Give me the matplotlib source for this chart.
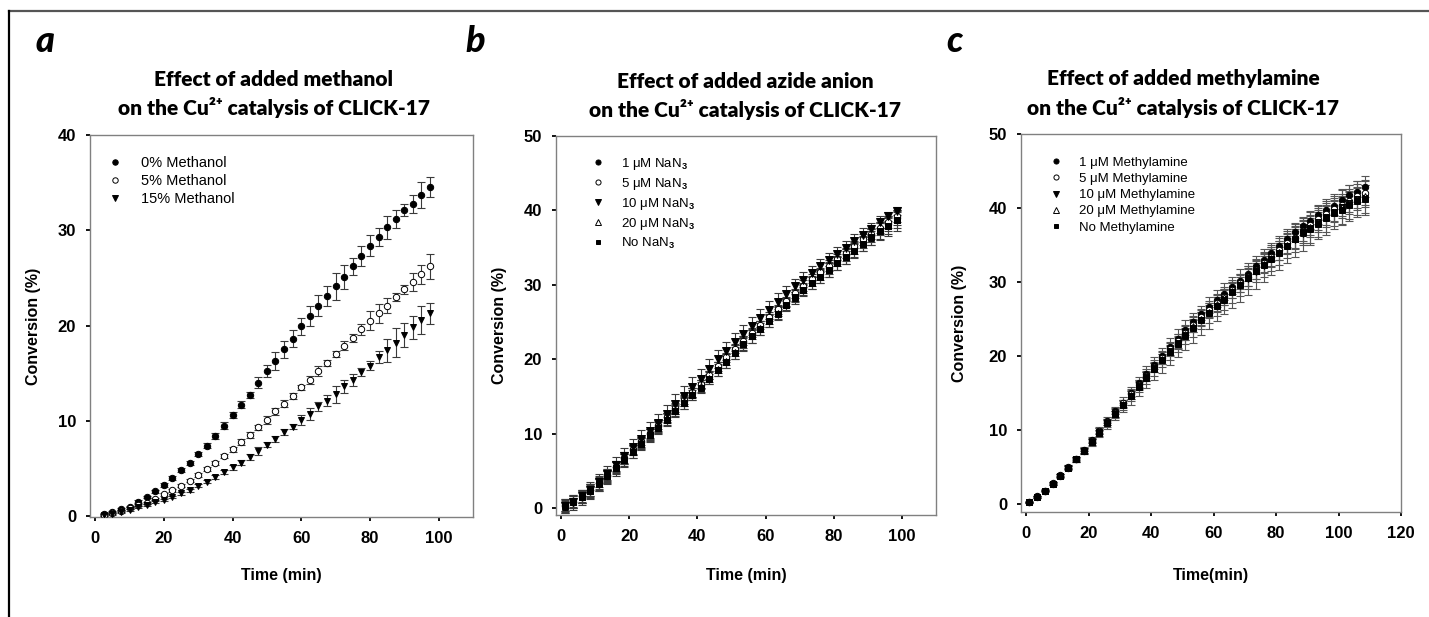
#!/usr/bin/env python
"""Three-panel CLICK-17 Cu2+ catalysis time courses (methanol, azide, methylamine)."""

import matplotlib

matplotlib.use("Agg")
import matplotlib.pyplot as plt
from matplotlib.lines import Line2D

W, H = 1429, 617

# ---- panel a: methanol ----
time_a = [2.5, 5, 7.5, 10, 12.5, 15, 17.5, 20, 22.5, 25, 27.5, 30, 32.5, 35, 37.5, 40, 42.5, 45, 47.5, 50,
          52.5, 55, 57.5, 60, 62.5, 65, 67.5, 70, 72.5, 75, 77.5, 80, 82.5, 85, 87.5, 90, 92.5, 95, 97.5]
meoh_0 = [0.2, 0.4, 0.7, 1.0, 1.5, 2.0, 2.6, 3.3, 4.0, 4.8, 5.6, 6.5, 7.4, 8.4, 9.5, 10.6, 11.7, 12.7, 14.0, 15.2,
          16.3, 17.5, 18.6, 19.9, 21.0, 22.1, 23.1, 24.1, 25.1, 26.2, 27.3, 28.4, 29.3, 30.3, 31.2, 32.1, 32.8, 33.7, 34.5]
meoh_0_err = [0.1, 0.1, 0.1, 0.1, 0.15, 0.15, 0.15, 0.2, 0.2, 0.2, 0.2, 0.2, 0.3, 0.35, 0.35, 0.3, 0.35, 0.3, 0.6, 0.65,
              0.95, 0.9, 0.9, 0.9, 1.0, 1.1, 1.0, 1.4, 1.3, 0.9, 1.1, 1.15, 0.9, 1.2, 0.95, 0.65, 0.95, 1.35, 1.05]
meoh_5 = [0.14, 0.28, 0.52, 0.8, 1.2, 1.4, 1.8, 2.3, 2.7, 3.2, 3.7, 4.3, 4.9, 5.6, 6.3, 7.0, 7.8, 8.5, 9.3, 10.1,
          11.0, 11.8, 12.6, 13.5, 14.3, 15.2, 16.1, 17.0, 17.9, 18.7, 19.6, 20.5, 21.3, 22.1, 23.0, 23.8, 24.6, 25.4, 26.2]
meoh_5_err = [0.1, 0.1, 0.1, 0.1, 0.1, 0.1, 0.1, 0.15, 0.15, 0.15, 0.15, 0.2, 0.2, 0.2, 0.25, 0.3, 0.3, 0.3, 0.3, 0.4,
              0.35, 0.4, 0.3, 0.3, 0.4, 0.5, 0.3, 0.3, 0.5, 0.45, 0.6, 1.0, 1.0, 0.8, 0.45, 0.45, 0.95, 1.0, 1.3]
meoh_15 = [0.1, 0.24, 0.42, 0.66, 0.91, 1.15, 1.43, 1.68, 2.0, 2.4, 2.7, 3.2, 3.6, 4.1, 4.6, 5.1, 5.6, 6.2, 6.8, 7.5,
           8.1, 8.8, 9.4, 10.1, 10.7, 11.5, 12.1, 12.8, 13.6, 14.3, 15.1, 15.8, 16.7, 17.4, 18.2, 19.0, 19.8, 20.6, 21.3]
meoh_15_err = [0.1, 0.1, 0.1, 0.1, 0.1, 0.1, 0.1, 0.1, 0.15, 0.15, 0.15, 0.15, 0.15, 0.2, 0.2, 0.25, 0.25, 0.3, 0.4, 0.3,
               0.3, 0.3, 0.3, 0.5, 0.6, 0.5, 0.6, 0.9, 0.7, 0.6, 0.4, 0.5, 0.6, 1.2, 1.5, 1.3, 1.2, 1.5, 1.1]

# ---- panel b: azide ----
time_b = [1, 3.5, 6, 8.5, 11, 13.5, 16, 18.5, 21, 23.5, 26, 28.5, 31, 33.5, 36, 38.5, 41, 43.5, 46, 48.5,
          51, 53.5, 56, 58.5, 61, 63.5, 66, 68.5, 71, 73.5, 76, 78.5, 81, 83.5, 86, 88.5, 91, 93.5, 96, 98.5]
azide_1 = [0.4, 0.9, 1.6, 2.4, 3.4, 4.5, 5.6, 6.7, 7.8, 8.9, 10.0, 11.1, 12.2, 13.3, 14.4, 15.5, 16.6, 17.7, 18.9, 20.0,
           21.2, 22.3, 23.4, 24.4, 25.4, 26.5, 27.6, 28.6, 29.6, 30.5, 31.4, 32.3, 33.2, 34.0, 34.9, 35.8, 36.6, 37.5, 38.2, 39.0]
azide_1_err = [0.8, 0.8, 0.9, 0.8, 0.8, 0.8, 0.7, 0.8, 0.7, 0.7, 0.7, 0.7, 0.6, 0.7, 0.7, 0.7, 0.6, 0.7, 0.7, 0.7,
               0.7, 0.8, 0.7, 0.7, 0.7, 0.7, 0.6, 0.7, 0.7, 0.7, 0.8, 0.8, 0.7, 0.8, 0.8, 0.8, 0.9, 0.8, 0.9, 0.9]
azide_5 = [0.3, 0.8, 1.6, 2.4, 3.4, 4.4, 5.6, 6.7, 7.9, 9.0, 10.1, 11.2, 12.3, 13.5, 14.6, 15.6, 16.7, 17.9, 19.1, 20.3,
           21.4, 22.5, 23.6, 24.6, 25.7, 26.7, 27.8, 28.9, 29.9, 30.8, 31.7, 32.6, 33.5, 34.3, 35.2, 36.1, 36.9, 37.7, 38.5, 39.2]
azide_5_err = [0.6, 0.6, 0.7, 0.7, 0.6, 0.6, 0.6, 0.6, 0.6, 0.5, 0.6, 0.6, 0.5, 0.6, 0.6, 0.6, 0.5, 0.6, 0.6, 0.6,
               0.6, 0.6, 0.6, 0.5, 0.6, 0.6, 0.6, 0.6, 0.7, 0.6, 0.6, 0.7, 0.7, 0.7, 0.7, 0.7, 0.8, 0.7, 0.8, 0.8]
azide_10 = [0.3, 0.9, 1.6, 2.5, 3.5, 4.6, 5.8, 7.0, 8.2, 9.3, 10.4, 11.5, 12.7, 14.0, 15.1, 16.3, 17.4, 18.7, 20.0, 21.1,
            22.3, 23.4, 24.5, 25.5, 26.6, 27.7, 28.8, 29.8, 30.7, 31.6, 32.6, 33.4, 34.2, 35.0, 35.9, 36.7, 37.5, 38.4, 39.2, 39.9]
azide_10_err = [0.8, 0.9, 0.9, 1.0, 1.1, 1.1, 1.1, 1.1, 1.1, 1.2, 1.2, 1.2, 1.2, 1.3, 1.3, 1.3, 1.3, 1.3, 1.2, 1.2,
                1.2, 1.2, 1.2, 1.2, 1.2, 1.2, 1.0, 1.0, 1.0, 1.0, 0.9, 0.9, 0.9, 0.9, 0.9, 0.9, 0.8, 0.8, 0.6, 0.5]
azide_20 = [0.2, 0.8, 1.5, 2.3, 3.2, 4.3, 5.4, 6.5, 7.6, 8.7, 9.8, 10.9, 12.0, 13.1, 14.2, 15.3, 16.4, 17.5, 18.7, 19.8,
            21.0, 22.1, 23.1, 24.2, 25.2, 26.2, 27.3, 28.3, 29.3, 30.2, 31.1, 32.0, 32.9, 33.8, 34.6, 35.5, 36.3, 37.2, 37.9, 38.7]
azide_20_err = [0.8, 0.8, 0.8, 0.9, 0.9, 0.9, 0.8, 0.8, 0.8, 0.8, 0.8, 0.8, 0.8, 0.8, 0.8, 0.8, 0.8, 0.8, 0.9, 0.9,
                0.9, 0.9, 0.9, 0.9, 0.9, 0.9, 0.8, 0.8, 0.8, 0.8, 0.9, 0.9, 0.9, 1.0, 1.0, 1.0, 1.0, 1.1, 1.1, 1.1]
azide_none = [0.3, 0.8, 1.5, 2.3, 3.3, 4.3, 5.4, 6.5, 7.6, 8.7, 9.8, 10.8, 11.9, 13.1, 14.1, 15.2, 16.2, 17.4, 18.6, 19.7,
              20.9, 22.0, 23.1, 24.1, 25.1, 26.1, 27.3, 28.4, 29.3, 30.2, 31.1, 32.0, 32.9, 33.7, 34.6, 35.5, 36.4, 37.2, 37.9, 38.7]
azide_none_err = [0.9, 1.0, 1.0, 1.0, 1.0, 1.0, 1.0, 1.0, 0.9, 0.9, 0.9, 0.8, 0.8, 0.7, 0.7, 0.7, 0.7, 0.7, 0.8, 0.8,
                  0.8, 0.9, 0.9, 0.8, 0.8, 0.7, 0.7, 0.7, 0.7, 0.8, 0.8, 0.9, 0.9, 0.9, 0.9, 1.0, 1.1, 1.2, 1.3, 1.4]

# ---- panel c: methylamine ----
time_c = [1, 3.5, 6, 8.5, 11, 13.5, 16, 18.5, 21, 23.5, 26, 28.5, 31, 33.5, 36, 38.5, 41, 43.5, 46, 48.5, 51, 53.5,
          56, 58.5, 61, 63.5, 66, 68.5, 71, 73.5, 76, 78.5, 81, 83.5, 86, 88.5, 91, 93.5, 96, 98.5, 101, 103.5, 106, 108.5]
mea_1 = [0.3, 1.0, 1.8, 2.8, 3.9, 5.0, 6.1, 7.3, 8.6, 9.9, 11.2, 12.5, 13.7, 15.0, 16.3, 17.6, 18.8, 20.0, 21.2, 22.3, 23.5, 24.6,
         25.6, 26.6, 27.5, 28.4, 29.3, 30.1, 31.1, 32.1, 33.0, 33.9, 34.9, 35.8, 36.7, 37.5, 38.3, 39.0, 39.7, 40.3, 41.1, 41.8, 42.2, 42.9]
mea_1_err = [0.1, 0.1, 0.1, 0.1, 0.1, 0.2, 0.2, 0.2, 0.3, 0.3, 0.3, 0.4, 0.4, 0.5, 0.5, 0.6, 0.6, 0.6, 0.7, 0.7, 0.7, 0.8,
             0.8, 0.8, 0.9, 0.9, 0.9, 1.0, 1.0, 1.0, 1.0, 1.1, 1.1, 1.1, 1.1, 1.2, 1.2, 1.2, 1.3, 1.3, 1.3, 1.3, 1.4, 1.4]
mea_5 = [0.2, 0.9, 1.8, 2.7, 3.8, 4.9, 6.0, 7.2, 8.5, 9.8, 11.1, 12.3, 13.6, 14.8, 16.1, 17.3, 18.5, 19.7, 20.9, 22.0, 23.1, 24.2,
         25.2, 26.2, 27.1, 28.0, 28.9, 29.8, 30.7, 31.6, 32.5, 33.4, 34.3, 35.2, 36.0, 36.9, 37.7, 38.5, 39.2, 39.8, 40.4, 41.0, 41.6, 42.0]
mea_5_err = [0.1, 0.1, 0.1, 0.2, 0.2, 0.2, 0.3, 0.3, 0.3, 0.4, 0.4, 0.5, 0.5, 0.6, 0.6, 0.7, 0.7, 0.8, 0.8, 0.9, 0.9, 1.0,
             1.0, 1.0, 1.1, 1.1, 1.1, 1.2, 1.2, 1.2, 1.3, 1.3, 1.3, 1.3, 1.4, 1.4, 1.4, 1.5, 1.5, 1.5, 1.5, 1.6, 1.6, 1.6]
mea_10 = [0.2, 0.9, 1.8, 2.7, 3.8, 4.9, 6.0, 7.2, 8.4, 9.7, 10.9, 12.2, 13.4, 14.6, 15.9, 17.1, 18.3, 19.4, 20.6, 21.7, 22.8, 23.8,
          24.8, 25.8, 26.8, 27.7, 28.6, 29.5, 30.4, 31.3, 32.2, 33.1, 33.9, 34.8, 35.7, 36.5, 37.3, 38.1, 38.8, 39.5, 40.1, 40.7, 41.2, 41.4]
mea_10_err = [0.1, 0.1, 0.2, 0.2, 0.3, 0.3, 0.4, 0.5, 0.6, 0.7, 0.8, 0.9, 1.0, 1.2, 1.3, 1.5, 1.6, 1.7, 1.8, 1.9, 2.0, 2.0,
              2.0, 2.1, 2.1, 2.1, 2.1, 2.2, 2.2, 2.2, 2.2, 2.2, 2.3, 2.3, 2.3, 2.3, 2.3, 2.3, 2.4, 2.4, 2.4, 2.4, 2.4, 2.4]
mea_20 = [0.2, 0.9, 1.8, 2.7, 3.8, 4.9, 6.0, 7.2, 8.5, 9.7, 11.0, 12.2, 13.5, 14.7, 16.0, 17.2, 18.4, 19.6, 20.7, 21.8, 22.9, 24.0,
          25.0, 26.0, 27.0, 27.9, 28.8, 29.7, 30.6, 31.5, 32.4, 33.2, 34.1, 35.0, 35.8, 36.6, 37.4, 38.1, 38.8, 39.5, 40.1, 40.7, 41.2, 41.6]
mea_20_err = [0.1, 0.1, 0.1, 0.1, 0.2, 0.2, 0.2, 0.3, 0.3, 0.3, 0.4, 0.4, 0.5, 0.5, 0.6, 0.6, 0.6, 0.7, 0.7, 0.8, 0.8, 0.8,
              0.9, 0.9, 0.9, 1.0, 1.0, 1.0, 1.1, 1.1, 1.1, 1.2, 1.2, 1.2, 1.3, 1.3, 1.3, 1.3, 1.4, 1.4, 1.4, 1.5, 1.5, 1.5]
mea_none = [0.2, 0.9, 1.8, 2.7, 3.8, 4.9, 6.0, 7.1, 8.4, 9.6, 10.9, 12.1, 13.3, 14.6, 15.8, 17.0, 18.2, 19.4, 20.5, 21.6, 22.7, 23.8,
            24.8, 25.8, 26.7, 27.6, 28.6, 29.6, 30.6, 31.5, 32.3, 33.1, 33.9, 34.9, 35.8, 36.7, 37.1, 37.9, 38.6, 39.3, 39.7, 40.4, 41.0, 41.2]
mea_none_err = [0.1, 0.1, 0.1, 0.2, 0.2, 0.2, 0.3, 0.3, 0.4, 0.4, 0.5, 0.5, 0.6, 0.7, 0.7, 0.8, 0.9, 0.9, 1.0, 1.1, 1.1, 1.2,
                1.2, 1.3, 1.3, 1.4, 1.4, 1.5, 1.5, 1.5, 1.6, 1.6, 1.6, 1.7, 1.7, 1.7, 1.8, 1.8, 1.8, 1.8, 1.9, 1.9, 1.9, 1.9]

labels_a = ["0% Methanol", "5% Methanol", "15% Methanol"]
labels_b = ["1 μM NaN$_3$", "5 μM NaN$_3$", "10 μM NaN$_3$", "20 μM NaN$_3$", "No NaN$_3$"]
labels_c = ["1 μM Methylamine", "5 μM Methylamine", "10 μM Methylamine", "20 μM Methylamine", "No Methylamine"]

TITLE_FONT = ["Lato", "DejaVu Sans"]
SPINE_GREY = "#808080"


def px_box(left, top, right, bottom):
    return [left / W, 1 - bottom / H, (right - left) / W, (bottom - top) / H]


def draw_series(ax, t, y, err, marker, filled, label, ms=4.6, ecolor="#3a3a3a"):
    ax.errorbar(t, y, yerr=err, fmt="none", ecolor=ecolor, elinewidth=0.8, capsize=3.2, capthick=0.8, zorder=2)
    face = "black" if filled else "white"
    ax.plot(t, y, linestyle="none", marker=marker, markersize=ms, markerfacecolor=face,
            markeredgecolor="black", markeredgewidth=0.7, label=label, zorder=3)


def style_axes(ax, xlim, ylim, xticks, yticks, xlabel, xlab_y, ylab_x):
    ax.set_xlim(*xlim)
    ax.set_ylim(*ylim)
    ax.set_xticks(xticks)
    ax.set_yticks(yticks)
    for sp in ax.spines.values():
        sp.set_color(SPINE_GREY)
        sp.set_linewidth(1.0)
    ax.tick_params(direction="out", length=3, width=1.3, color="black", labelsize=12, pad=7)
    ax.set_xlabel(xlabel, fontsize=11.5, fontweight="bold")
    ax.set_ylabel("Conversion (%)", fontsize=11.5, fontweight="bold")
    ax.xaxis.set_label_coords(0.5, xlab_y)
    ax.yaxis.set_label_coords(ylab_x, 0.5)


def add_title(fig, cx, lines, y1=79, y2=107):
    for text, y in zip(lines, (y1, y2)):
        fig.text(cx / W, 1 - y / H, text, ha="center", va="center", fontsize=15,
                 fontweight="heavy", family=TITLE_FONT)


def main() -> None:
    plt.rcParams["font.family"] = ["Liberation Sans", "DejaVu Sans"]
    plt.rcParams["font.weight"] = "bold"
    plt.rcParams["mathtext.fontset"] = "custom"
    plt.rcParams["mathtext.rm"] = "Liberation Sans"

    fig = plt.figure(figsize=(W / 100, H / 100), dpi=100)

    # frame lines around the composite figure (top and left only)
    fig.add_artist(Line2D([9 / W, 1], [1 - 11 / H, 1 - 11 / H], color="#555555", linewidth=1.6))
    fig.add_artist(Line2D([9 / W, 9 / W], [0, 1 - 11 / H], color="black", linewidth=1.6))

    for x_px, letter in [(45, "a"), (475, "b"), (955, "c")]:
        fig.text(x_px / W, 1 - 41 / H, letter, ha="center", va="center", fontsize=26,
                 fontweight="black", style="italic", family=TITLE_FONT)

    sup = "Cu²⁺"
    legend_kw = dict(loc="upper left", frameon=False, handlelength=1.0, borderpad=0, borderaxespad=0)

    # panel a
    ax_a = fig.add_axes(px_box(90, 135, 473, 517))
    draw_series(ax_a, time_a, meoh_0, meoh_0_err, "o", True, labels_a[0])
    draw_series(ax_a, time_a, meoh_5, meoh_5_err, "o", False, labels_a[1])
    draw_series(ax_a, time_a, meoh_15, meoh_15_err, "v", True, labels_a[2], ms=5)
    style_axes(ax_a, (-1.5, 110), (-0.1, 40), range(0, 101, 20), range(0, 41, 10),
               "Time (min)", -0.134, -0.128)
    ax_a.legend(bbox_to_anchor=(0.046, 0.945), prop={"size": 10.5, "weight": "normal"},
                handletextpad=1.28, labelspacing=0.27, markerscale=0.85, **legend_kw)
    add_title(fig, 274, ["Effect of added methanol", f"on the {sup} catalysis of CLICK-17"])

    # panel b
    ax_b = fig.add_axes(px_box(556, 136, 936, 515))
    draw_series(ax_b, time_b, azide_1, azide_1_err, "o", True, labels_b[0])
    draw_series(ax_b, time_b, azide_5, azide_5_err, "o", False, labels_b[1])
    draw_series(ax_b, time_b, azide_20, azide_20_err, "^", False, labels_b[3], ms=5)
    draw_series(ax_b, time_b, azide_10, azide_10_err, "v", True, labels_b[2], ms=5.2)
    draw_series(ax_b, time_b, azide_none, azide_none_err, "s", True, labels_b[4], ms=4.4)
    style_axes(ax_b, (-1.5, 110), (-0.9, 50), range(0, 101, 20), range(0, 51, 10),
               "Time (min)", -0.14, -0.129)
    handles, labs = ax_b.get_legend_handles_labels()
    order = [labs.index(lb) for lb in labels_b]
    ax_b.legend([handles[i] for i in order], [labs[i] for i in order], bbox_to_anchor=(0.094, 0.947),
                prop={"size": 9.5, "weight": "normal"}, handletextpad=1.2, labelspacing=0.3,
                markerscale=0.8, **legend_kw)
    add_title(fig, 745, ["Effect of added azide anion", f"on the {sup} catalysis of CLICK-17"],
              y1=82, y2=110)

    # panel c
    ax_c = fig.add_axes(px_box(1021, 134, 1401, 512))
    grey = "#555555"
    draw_series(ax_c, time_c, mea_1, mea_1_err, "o", True, labels_c[0], ecolor=grey)
    draw_series(ax_c, time_c, mea_5, mea_5_err, "o", False, labels_c[1], ecolor=grey)
    draw_series(ax_c, time_c, mea_10, mea_10_err, "v", True, labels_c[2], ms=5, ecolor=grey)
    draw_series(ax_c, time_c, mea_20, mea_20_err, "^", False, labels_c[3], ms=5, ecolor=grey)
    draw_series(ax_c, time_c, mea_none, mea_none_err, "s", True, labels_c[4], ms=4.4, ecolor=grey)
    style_axes(ax_c, (-1.6, 120), (-1.1, 50), range(0, 121, 20), range(0, 51, 10),
               "Time(min)", -0.148, -0.142)
    ax_c.legend(bbox_to_anchor=(0.076, 0.94), prop={"size": 9.5, "weight": "normal"},
                handletextpad=1.2, labelspacing=0.3, markerscale=0.8, **legend_kw)
    add_title(fig, 1183, ["Effect of added methylamine", f"on the {sup} catalysis of CLICK-17"])

    fig.savefig("out.png", dpi=100)
    plt.close(fig)


if __name__ == "__main__":
    main()
